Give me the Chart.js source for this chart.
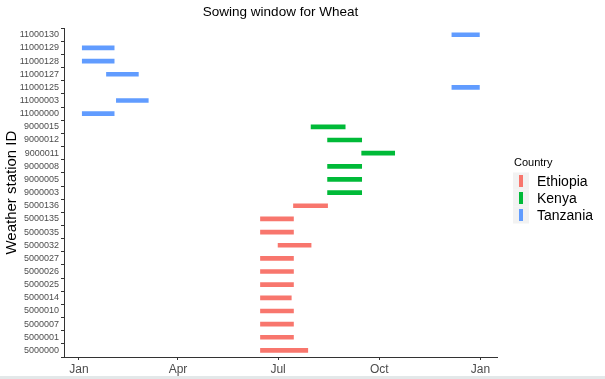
<!DOCTYPE html>
<html lang="en">
<head>
    <meta charset="UTF-8"/>
    <title>Sowing window for Wheat</title>
    <script src="https://cdn.jsdelivr.net/npm/chart.js"></script>
    <style>
        html, body { margin: 0; padding: 0; background: #fff; }
        #wrap { width: 605px; height: 379px; }
    </style>
</head>
<body>
    <div id="wrap"><canvas id="myChart" width="605" height="379"></canvas></div>
    <script>
        // stations, top to bottom as on the axis
        var stations = ['11000130','11000129','11000128','11000127','11000125','11000003','11000000',
            '9000015','9000012','9000011','9000008','9000005','9000003',
            '5000136','5000135','5000035','5000032','5000027','5000026','5000025','5000014',
            '5000010','5000007','5000001','5000000'];
        var country = ['Tanzania','Tanzania','Tanzania','Tanzania','Tanzania','Tanzania','Tanzania',
            'Kenya','Kenya','Kenya','Kenya','Kenya','Kenya',
            'Ethiopia','Ethiopia','Ethiopia','Ethiopia','Ethiopia','Ethiopia','Ethiopia','Ethiopia',
            'Ethiopia','Ethiopia','Ethiopia','Ethiopia'];
        // sowing window, day of year (0 = 1 Jan)
        var startDay = [339, 3, 3, 25, 339, 34, 3,
            211, 226, 257, 226, 226, 226,
            195, 165, 165, 181, 165, 165, 165, 165,
            165, 165, 165, 165];
        var endDay = [364, 32, 32, 54, 364, 63, 32,
            242, 257, 287, 257, 257, 257,
            226, 195, 195, 211, 195, 195, 195, 193,
            195, 195, 195, 208];

        var countries = ['Ethiopia', 'Kenya', 'Tanzania'];
        var colors = ['#F8766D', '#00BA38', '#619CFF'];
        var tickDays = [0, 90, 181, 273, 365];
        var tickNames = ['Jan', 'Apr', 'Jul', 'Oct', 'Jan'];

        var datasets = countries.map(function(c, k) {
            return {
                label: c,
                data: stations.map(function(s, i) {
                    return country[i] === c ? [startDay[i], endDay[i]] : null;
                }),
                backgroundColor: colors[k],
                borderWidth: 0,
                barThickness: 4,
                grouped: false
            };
        });

        var legendBox = {
            id: 'legendBox',
            afterDraw: function(chart) {
                var ctx = chart.ctx;
                ctx.save();
                ctx.fillStyle = '#000';
                ctx.font = '11px "Liberation Sans", Arial, sans-serif';
                ctx.textBaseline = 'middle';
                ctx.fillText('Country', 514, 163);
                chart.data.datasets.forEach(function(ds, k) {
                    var y = 181 + k * 17;
                    ctx.fillStyle = '#f2f2f2';
                    ctx.fillRect(513, y - 8.5, 16, 17);
                    ctx.fillStyle = ds.backgroundColor;
                    ctx.fillRect(519, y - 6, 4, 12);
                    ctx.fillStyle = '#000';
                    ctx.font = '14px "Liberation Sans", Arial, sans-serif';
                    ctx.fillText(ds.label, 537, y + 1);
                });
                // grey strip at the bottom edge
                ctx.fillStyle = '#e3e8e9';
                ctx.fillRect(0, 376, 605, 3);
                ctx.restore();
            }
        };

        var ctx = document.getElementById('myChart').getContext('2d');
        var myChart = new Chart(ctx, {
            type: 'bar',
            data: { labels: stations, datasets: datasets },
            options: {
                indexAxis: 'y',
                responsive: false,
                animation: false,
                layout: { padding: { right: 108, top: 0, bottom: 0, left: 0 } },
                plugins: {
                    legend: { display: false },
                    tooltip: { enabled: false },
                    title: {
                        display: true,
                        text: 'Sowing window for Wheat',
                        color: '#000',
                        fullSize: false,
                        font: { family: '"Liberation Sans", Arial, sans-serif', size: 13.5, weight: 'normal' },
                        padding: { top: 4, bottom: 8 }
                    }
                },
                scales: {
                    x: {
                        type: 'linear',
                        min: -13.6,
                        max: 380,
                        afterBuildTicks: function(axis) {
                            axis.ticks = tickDays.map(function(v) { return { value: v }; });
                        },
                        afterFit: function(axis) { axis.height = 22; },
                        ticks: {
                            color: '#4d4d4d',
                            padding: 2,
                            font: { family: '"Liberation Sans", Arial, sans-serif', size: 12 },
                            callback: function(value) {
                                var i = tickDays.indexOf(value);
                                return i >= 0 ? tickNames[i] : '';
                            }
                        },
                        grid: { drawOnChartArea: false, drawTicks: true, tickLength: 3, color: '#333' },
                        border: { color: '#333', width: 1 }
                    },
                    y: {
                        type: 'category',
                        offset: true,
                        afterFit: function(axis) { axis.width = 64; },
                        ticks: {
                            color: '#4d4d4d',
                            padding: 2,
                            autoSkip: false,
                            font: { family: '"Liberation Sans", Arial, sans-serif', size: 9 }
                        },
                        grid: { drawOnChartArea: false, drawTicks: true, tickLength: 3, color: '#333' },
                        border: { color: '#333', width: 1 },
                        title: {
                            display: true,
                            text: 'Weather station ID',
                            color: '#000',
                            padding: { top: 3, bottom: 0 },
                            font: { family: '"Liberation Sans", Arial, sans-serif', size: 15 }
                        }
                    }
                }
            },
            plugins: [legendBox]
        });
    </script>
</body>
</html>
